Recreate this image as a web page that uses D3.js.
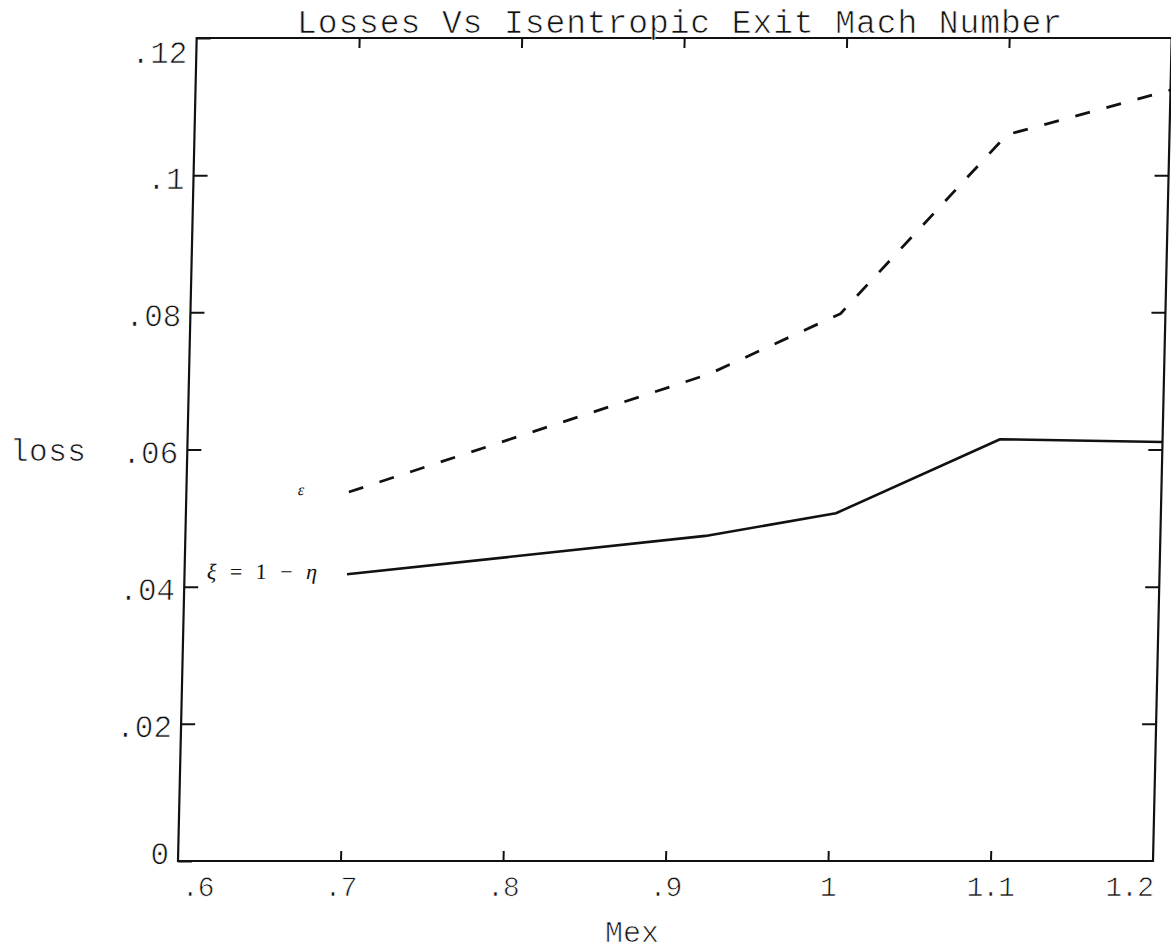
<!DOCTYPE html>
<html>
<head>
<meta charset="utf-8">
<script src="https://cdn.jsdelivr.net/npm/d3@7"></script>
<style>
  html, body { margin: 0; padding: 0; background: #ffffff; }
  svg { display: block; }
  /* thin, plotter-like lettering */
  .mono { font-family: "Liberation Mono", "DejaVu Sans Mono", monospace; fill: #111; stroke: #ffffff; stroke-width: 0.7px; }
</style>
</head>
<body>
<svg id="chart" width="1171" height="951"></svg>
<script>
// Isentropic exit Mach number at each measured station
const machNumbers = [0.7, 0.92, 1.0, 1.1, 1.2];
// Loss coefficient xi = 1 - eta (solid line)
const lossXi = [0.0418, 0.0474, 0.0507, 0.0615, 0.0611];
// Loss coefficient epsilon (dashed line)
const lossEps = [0.0538, 0.0710, 0.0798, 0.1059, 0.1124];

const xTicks = [0.6, 0.7, 0.8, 0.9, 1.0, 1.1, 1.2];
const yTicks = [0, 0.02, 0.04, 0.06, 0.08, 0.1, 0.12];

const titleText = "Losses Vs Isentropic Exit Mach Number";
const xTitle = "Mex";
const yTitle = "loss";

(function () {
  const svg = d3.select("#chart");
  const W = 1171, H = 951;

  const x = d3.scaleLinear().domain([0.6, 1.2]).range([178, 1153]);
  const y = d3.scaleLinear().domain([0, 0.12]).range([861, 38]);
  const [xMin, xMax] = x.domain();
  const [yMin, yMax] = y.domain();

  // Plotter-style number format: no leading zero
  const fmt = d => String(+d.toFixed(2)).replace(/^0\./, ".");

  svg.append("rect").attr("width", W).attr("height", H).attr("fill", "#ffffff");

  // The whole plot frame leans slightly to the right
  const Y0 = y(0);
  const plot = svg.append("g")
    .attr("transform", `translate(0,${Y0}) skewX(-1.3) translate(0,${-Y0})`);

  const tickStyle = sel => {
    sel.select(".domain").remove();
    sel.selectAll(".tick line").attr("stroke", "#111").attr("stroke-width", 2);
  };

  // Left axis with labels; the end labels are kept inside the frame height
  const axLeft = plot.append("g")
    .attr("transform", `translate(${x(xMin)},0)`)
    .call(d3.axisLeft(y).tickValues(yTicks).tickFormat(fmt).tickSizeInner(-14).tickSizeOuter(0).tickPadding(9));
  tickStyle(axLeft);
  axLeft.selectAll(".tick text")
    .attr("class", "mono")
    .attr("font-size", 31)
    .attr("dy", d => d === yMax ? "0.8em" : d === yMin ? "0.08em" : "0.42em");

  // Right axis, ticks only
  const axRight = plot.append("g")
    .attr("transform", `translate(${x(xMax)},0)`)
    .call(d3.axisRight(y).tickValues(yTicks.slice(1, -1)).tickFormat("").tickSizeInner(-14).tickSizeOuter(0));
  tickStyle(axRight);

  // Bottom axis with labels; the end labels are kept inside the frame width
  const axBottom = plot.append("g")
    .attr("transform", `translate(0,${y(yMin)})`)
    .call(d3.axisBottom(x).tickValues(xTicks).tickFormat(fmt).tickSizeInner(-10).tickSizeOuter(0).tickPadding(15));
  tickStyle(axBottom);
  axBottom.selectAll(".tick line").filter(d => d === xMin || d === xMax).remove();
  axBottom.selectAll(".tick text")
    .attr("class", "mono")
    .attr("font-size", 28)
    .attr("letter-spacing", -1)
    .attr("dy", "0.71em")
    .attr("text-anchor", d => d === xMin ? "start" : d === xMax ? "end" : "middle")
    .attr("x", d => d === xMin ? 4 : d === xMax ? 0 : 0);

  // Top axis, ticks only
  const axTop = plot.append("g")
    .attr("transform", `translate(0,${y(yMax)})`)
    .call(d3.axisTop(x).tickValues(xTicks.slice(1, -1)).tickFormat("").tickSizeInner(-10).tickSizeOuter(0));
  tickStyle(axTop);

  // Frame
  plot.append("rect")
    .attr("x", x(xMin)).attr("y", y(yMax))
    .attr("width", x(xMax) - x(xMin)).attr("height", y(yMin) - y(yMax))
    .attr("fill", "none").attr("stroke", "#111").attr("stroke-width", 2.2);

  // Curves
  const line = d3.line().x(d => x(d[0])).y(d => y(d[1]));
  const xiPts = machNumbers.map((m, i) => [m, lossXi[i]]);
  const epsPts = machNumbers.map((m, i) => [m, lossEps[i]]);

  plot.append("path").datum(xiPts)
    .attr("d", line).attr("fill", "none")
    .attr("stroke", "#111").attr("stroke-width", 2.6)
    .attr("stroke-linejoin", "round");

  plot.append("path").datum(epsPts)
    .attr("d", line).attr("fill", "none")
    .attr("stroke", "#111").attr("stroke-width", 2.8)
    .attr("stroke-dasharray", "15,17")
    .attr("stroke-linejoin", "round");

  // Curve labels next to the start of each line
  const xiLabel = plot.append("text")
    .attr("x", x(machNumbers[0]) - 30)
    .attr("y", y(lossXi[0]) + 5)
    .attr("text-anchor", "end")
    .attr("font-family", "'Liberation Serif', 'DejaVu Serif', serif")
    .attr("font-size", 22)
    .attr("fill", "#111")
    .attr("word-spacing", 8);
  xiLabel.append("tspan").attr("font-style", "italic").text("ξ");
  xiLabel.append("tspan").text(" = 1 − ");
  xiLabel.append("tspan").attr("font-style", "italic").text("η");

  plot.append("text")
    .attr("x", x(machNumbers[0]) - 48)
    .attr("y", y(lossEps[0]) + 3)
    .attr("text-anchor", "middle")
    .attr("font-family", "'Liberation Serif', 'DejaVu Serif', serif")
    .attr("font-style", "italic")
    .attr("font-size", 16)
    .attr("fill", "#111")
    .text("ε");

  // Titles
  svg.append("text")
    .attr("class", "mono")
    .attr("x", 680).attr("y", 33)
    .attr("text-anchor", "middle")
    .attr("font-size", 33)
    .attr("letter-spacing", 0.9)
    .text(titleText);

  svg.append("text")
    .attr("class", "mono")
    .attr("x", 10).attr("y", 461)
    .attr("font-size", 31)
    .attr("letter-spacing", 0.5)
    .text(yTitle);

  svg.append("text")
    .attr("class", "mono")
    .attr("x", 605).attr("y", 942)
    .attr("font-size", 30)
    .text(xTitle);
})();
</script>
</body>
</html>
